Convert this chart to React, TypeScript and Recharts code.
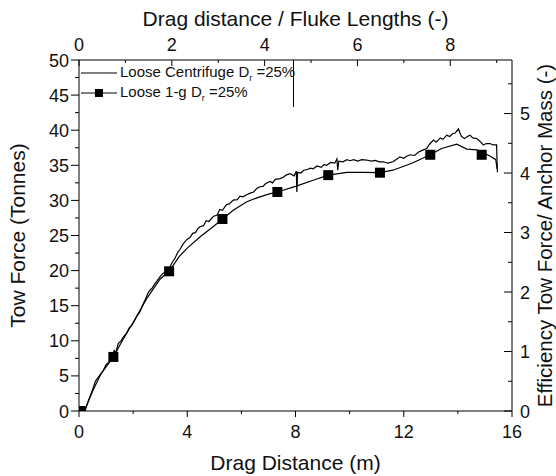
import React from 'react';
import { ComposedChart, Line, Scatter, XAxis, YAxis, Legend, Label } from 'recharts';

const FONT = '"Liberation Sans", Arial, sans-serif';

// centrifuge test, drag distance (m) vs tow force (tonnes)
const centrifugeDist = [
  0.22, 0.35, 0.5, 0.6, 0.75, 0.9, 1.0, 1.1, 1.2, 1.3, 1.35, 1.45, 1.55, 1.65, 1.76, 1.85, 1.95,
  2.07, 2.15, 2.25, 2.38, 2.45, 2.55, 2.62, 2.7, 2.8, 2.9, 2.99, 3.1, 3.2, 3.33, 3.45, 3.55, 3.65,
  3.73, 3.85, 3.98, 4.1, 4.2, 4.3, 4.4, 4.47, 4.6, 4.7, 4.8, 4.96, 5.1, 5.2, 5.3, 5.45, 5.55, 5.7,
  5.85, 5.95, 6.05, 6.2, 6.3, 6.45, 6.57, 6.69, 6.8, 6.9, 7.06, 7.15, 7.25, 7.43, 7.55, 7.65, 7.8,
  7.95, 8.03, 8.05, 8.08, 8.2, 8.3, 8.45, 8.54, 8.65, 8.8, 8.95, 9.05, 9.15, 9.3, 9.45, 9.53, 9.56,
  9.6, 9.75, 9.9, 10.01, 10.15, 10.3, 10.45, 10.63, 10.8, 10.95, 11.1, 11.25, 11.4, 11.6, 11.75,
  11.86, 12.0, 12.1, 12.25, 12.4, 12.55, 12.72, 12.85, 12.95, 13.1, 13.2, 13.35, 13.45, 13.59, 13.7,
  13.8, 13.9, 14.02, 14.1, 14.14, 14.25, 14.35, 14.45, 14.55, 14.7, 14.82, 14.94, 15.05, 15.19,
  15.3, 15.43, 15.46,
];
const centrifugeForce = [
  0, 1.5, 3.0, 4.2, 5.0, 5.8, 6.6, 6.9, 7.6, 8.6, 8.2, 9.6, 10.0, 10.6, 11.1, 11.8, 12.2,
  13.0, 13.6, 14.1, 15.3, 15.9, 16.8, 17.2, 17.5, 18.1, 18.6, 19.1, 19.6, 19.8, 20.3, 21.2, 21.8, 22.6,
  23.0, 23.8, 24.4, 24.7, 25.3, 25.4, 26.0, 26.25, 26.4, 27.1, 27.0, 27.7, 27.9, 28.7, 28.6, 29.4, 29.5, 30.05,
  30.1, 30.6, 30.5, 30.8, 31.0, 31.2, 31.7, 31.95, 32.0, 32.4, 32.7, 32.5, 33.0, 33.1, 33.3, 33.6, 33.8,
  33.5, 34.2, 31.2, 34.0, 33.9, 34.3, 34.4, 34.6, 34.5, 34.9, 34.7, 35.1, 35.0, 35.4, 35.3, 35.9, 34.3,
  35.6, 35.5, 35.8, 35.65, 35.8, 35.6, 35.8, 35.75, 35.6, 35.7, 35.5, 35.5, 35.3, 35.5, 35.9,
  36.2, 36.0, 36.3, 36.5, 36.4, 36.9, 37.2, 37.4, 38.0, 38.6, 38.3, 38.9, 38.7, 39.3, 39.1,
  39.5, 39.6, 40.2, 39.4, 39.1, 38.8, 39.1, 39.3, 38.9, 38.8, 38.4, 37.9, 38.1, 38.1,
  37.9, 37.9, 34.0,
];

// 1-g test line
const oneGDist = [
  0.2, 0.5, 0.8, 1.27, 1.6, 2.0, 2.5, 3.0, 3.33, 3.7, 4.0, 4.5, 5.0, 5.3, 5.7, 6.2, 6.6, 7.0, 7.33,
  8.0, 8.6, 9.21, 9.9, 10.5, 11.12, 11.6, 12.3, 12.98, 13.4, 13.96, 14.33, 14.7, 14.88, 15.2, 15.4, 15.45,
];
const oneGForce = [
  0, 2.8, 5.2, 7.7, 10.0, 12.6, 16.0, 18.8, 19.9, 22.0, 23.2, 24.9, 26.4, 27.35, 28.6, 29.8, 30.4, 30.9, 31.2,
  32.0, 32.8, 33.6, 34.0, 34.0, 33.95, 34.3, 35.3, 36.5, 37.4, 38.0, 37.3, 37.2, 36.9, 36.3, 35.8, 34.5,
];

// 1-g square markers
const markerDist = [0.05, 1.27, 3.33, 5.3, 7.33, 9.21, 11.12, 12.98, 14.88];
const markerForce = [0, 7.7, 19.9, 27.35, 31.2, 33.6, 33.95, 36.5, 36.5];

const distTicks = [0, 2, 4, 6, 8, 10, 12, 14, 16];
const forceTicks = [0, 2.5, 5, 7.5, 10, 12.5, 15, 17.5, 20, 22.5, 25, 27.5, 30, 32.5, 35, 37.5, 40, 42.5, 45, 47.5, 50];
const flukeTicks = [0, 1, 2, 3, 4, 5, 6, 7, 8, 9];
const effTicks = [0, 0.5, 1, 1.5, 2, 2.5, 3, 3.5, 4, 4.5, 5, 5.5];

const centrifugeData = centrifugeDist.map((d, i) => ({ d, f: centrifugeForce[i] }));
const oneGData = oneGDist.map((d, i) => ({ d, f: oneGForce[i] }));
const markerData = markerDist.map((d, i) => ({ d, f: markerForce[i] }));

type TickProps = { x?: number; y?: number; payload?: { value: number } };

const txt = { fontSize: 18, fill: '#111', fontFamily: FONT } as const;
const titleStyle = { fontSize: 21, fill: '#111', fontFamily: FONT };

const LeftTick = ({ x = 0, y = 0, payload }: TickProps) => {
  const v = payload?.value ?? 0;
  const major = v % 5 === 0;
  return (
    <g>
      <line x1={x} x2={x - (major ? 8 : 4)} y1={y} y2={y} stroke="#000" />
      {major && <text x={x - 10} y={y + 6.5} textAnchor="end" {...txt}>{v}</text>}
    </g>
  );
};

const RightTick = ({ x = 0, y = 0, payload }: TickProps) => {
  const v = payload?.value ?? 0;
  const major = Number.isInteger(v);
  return (
    <g>
      <line x1={x} x2={x - (major ? 8 : 4)} y1={y} y2={y} stroke="#000" />
      {major && <text x={x + 8} y={y + 6.5} textAnchor="start" {...txt}>{v}</text>}
    </g>
  );
};

const BottomTick = ({ x = 0, y = 0, payload }: TickProps) => {
  const v = payload?.value ?? 0;
  const major = v % 4 === 0;
  return (
    <g>
      <line x1={x} x2={x} y1={y} y2={y + (major ? 6 : 3)} stroke="#000" />
      {major && <text x={x} y={y + 26.5} textAnchor="middle" {...txt}>{v}</text>}
    </g>
  );
};

const TopTick = ({ x = 0, y = 0, payload }: TickProps) => {
  const v = payload?.value ?? 0;
  const major = v % 2 === 0;
  return (
    <g>
      <line x1={x} x2={x} y1={y} y2={y + (major ? 6 : 3)} stroke="#000" />
      {major && <text x={x} y={y - 9} textAnchor="middle" {...txt}>{v}</text>}
    </g>
  );
};

const Square = (props: { cx?: number; cy?: number }) => {
  const { cx = 0, cy = 0 } = props;
  return <rect x={cx - 5} y={cy - 5} width={10} height={10} fill="#000" />;
};

const legendItems = [
  { name: 'Loose Centrifuge D', marker: false },
  { name: 'Loose 1-g D', marker: true },
];

const renderLegend = () => (
  <div
    style={{
      width: 215,
      height: 47,
      borderRight: '1px solid #000',
      fontFamily: FONT,
      fontSize: 15,
      color: '#111',
      paddingTop: 3,
      boxSizing: 'border-box',
    }}
  >
    {legendItems.map((item) => (
      <div key={item.name} style={{ display: 'flex', alignItems: 'center', height: 20 }}>
        <svg width={41} height={14} style={{ flex: 'none' }}>
          <line x1={2} x2={38} y1={7} y2={7} stroke="#000" strokeWidth={1.2} />
          {item.marker && <rect x={16} y={3} width={8} height={8} fill="#000" />}
        </svg>
        <span style={{ whiteSpace: 'nowrap' }}>
          {item.name}
          <sub style={{ fontSize: 9 }}>r</sub> =25%
        </span>
      </div>
    ))}
  </div>
);

export default function App() {
  return (
    <div style={{ position: 'absolute', left: 0, top: 0, width: 556, height: 476, background: '#fff' }}>
      <ComposedChart width={556} height={476} margin={{ top: 0, right: 0, bottom: 0, left: 0 }}>
        <XAxis
          xAxisId="bottom"
          dataKey="d"
          type="number"
          domain={[0, 16]}
          ticks={distTicks}
          interval={0}
          allowDataOverflow
          height={65}
          tickSize={0}
          tickMargin={0}
          tickLine={false}
          tick={<BottomTick />}
          axisLine={{ stroke: '#000' }}
        >
          <Label value="Drag Distance (m)" position="insideBottom" offset={6} style={titleStyle} />
        </XAxis>
        <XAxis
          xAxisId="top"
          dataKey="d"
          orientation="top"
          type="number"
          domain={[0, 9.33]}
          ticks={flukeTicks}
          interval={0}
          allowDataOverflow
          height={60}
          tickSize={0}
          tickMargin={0}
          tickLine={false}
          tick={<TopTick />}
          axisLine={{ stroke: '#000' }}
        >
          <Label value="Drag distance / Fluke Lengths (-)" position="insideTop" offset={11} style={titleStyle} />
        </XAxis>
        <YAxis
          yAxisId="left"
          dataKey="f"
          type="number"
          domain={[0, 50]}
          ticks={forceTicks}
          interval={0}
          allowDataOverflow
          width={79}
          tickSize={0}
          tickMargin={0}
          tickLine={false}
          tick={<LeftTick />}
          axisLine={{ stroke: '#000' }}
        >
          <Label value="Tow Force (Tonnes)" angle={-90} position="insideLeft" offset={18} style={{ ...titleStyle, textAnchor: 'middle' }} />
        </YAxis>
        <YAxis
          yAxisId="right"
          dataKey="f"
          orientation="right"
          type="number"
          domain={[0, 5.9]}
          ticks={effTicks}
          interval={0}
          allowDataOverflow
          width={44}
          tickSize={0}
          tickMargin={0}
          tickLine={false}
          tick={<RightTick />}
          axisLine={{ stroke: '#000' }}
        >
          <Label value="Efficiency Tow Force/ Anchor Mass (-)" angle={-90} position="insideRight" offset={11} style={{ ...titleStyle, fontSize: 20.5, textAnchor: 'middle' }} />
        </YAxis>
        <Legend layout="horizontal" verticalAlign="middle" align="center" wrapperStyle={{ left: 79, top: 60, width: 215, height: 47 }} content={renderLegend} />
        {/* invisible series so the secondary top/right axes get drawn */}
        <Line
          xAxisId="top"
          yAxisId="right"
          data={markerData}
          dataKey="f"
          stroke="none"
          dot={false}
          activeDot={false}
          legendType="none"
          isAnimationActive={false}
        />
        <Line
          xAxisId="bottom"
          yAxisId="left"
          data={oneGData}
          dataKey="f"
          type="linear"
          stroke="#000"
          strokeWidth={1.2}
          dot={false}
          isAnimationActive={false}
        />
        <Line
          xAxisId="bottom"
          yAxisId="left"
          data={centrifugeData}
          dataKey="f"
          type="linear"
          stroke="#000"
          strokeWidth={1.2}
          dot={false}
          isAnimationActive={false}
        />
        <Scatter xAxisId="bottom" yAxisId="left" data={markerData} dataKey="f" shape={<Square />} isAnimationActive={false} />
      </ComposedChart>
    </div>
  );
}
